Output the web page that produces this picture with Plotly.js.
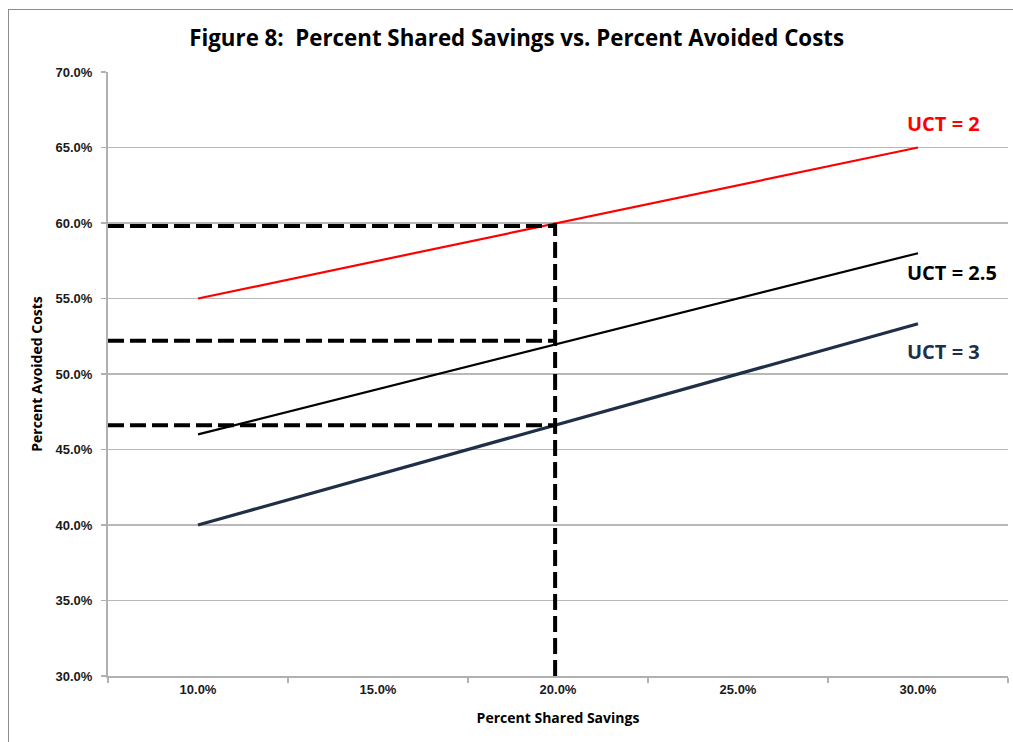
<!DOCTYPE html>
<html>
<head>
<meta charset="utf-8">
<script src="https://cdn.plot.ly/plotly-3.0.1.min.js"></script>
<style>
html,body{margin:0;padding:0;background:#fff;}
#wrap{position:relative;width:1013px;height:742px;}
#chart{width:1013px;height:742px;}
#frame{position:absolute;left:8px;top:9px;width:1020px;height:760px;border:1.5px solid #8c8c8c;pointer-events:none;}
</style>
</head>
<body>
<div id="wrap"><div id="chart"></div><div id="frame"></div></div>
<script>
// Data
var sharedSavings = [0.10, 0.15, 0.20, 0.25, 0.30];
var xTickLabels = ["10.0%", "15.0%", "20.0%", "25.0%", "30.0%"];
var uct2 = [0.55, 0.575, 0.60, 0.625, 0.65];
var uct25 = [0.46, 0.49, 0.52, 0.55, 0.58];
var uct3 = [0.40, 0.4333, 0.4666, 0.50, 0.5333];
var seriesNames = ["UCT = 2", "UCT = 2.5", "UCT = 3"];
var yTickVals = [0.30, 0.35, 0.40, 0.45, 0.50, 0.55, 0.60, 0.65, 0.70];
var yTickLabels = ["30.0%", "35.0%", "40.0%", "45.0%", "50.0%", "55.0%", "60.0%", "65.0%", "70.0%"];
// reference guide lines
var guideX = 0.1992;
var guideLevels = [0.598, 0.522, 0.466];
var guideTop = 0.600;
var axisMinX = 0.075, axisMaxX = 0.325;
var labelX = 0.2965;
var labelY = [0.6656, 0.567, 0.515];

var colors = ["#ff0000", "#000000", "#1f2f47"];
var widths = [2.2, 2.2, 3.2];
var allSeries = [uct2, uct25, uct3];

var traces = [];
allSeries.forEach(function (s, i) {
  traces.push({
    x: sharedSavings, y: s, type: "scatter", mode: "lines",
    name: seriesNames[i], line: {color: colors[i], width: widths[i]},
    hoverinfo: "skip", showlegend: false
  });
});
var dashStyle = {color: "#000000", width: 4, dash: "16px,6px"};
guideLevels.forEach(function (lv) {
  traces.push({x: [axisMinX, guideX], y: [lv, lv], type: "scatter", mode: "lines",
    line: dashStyle, showlegend: false, hoverinfo: "skip"});
});
traces.push({x: [guideX, guideX], y: [0.30, guideTop], type: "scatter", mode: "lines",
  line: dashStyle, showlegend: false, hoverinfo: "skip"});

var tickFont = {family: "Arial, Liberation Sans, sans-serif", size: 13, color: "#1a1a1a", weight: "bold"};

var annotations = seriesNames.map(function (n, i) {
  return {x: labelX, y: labelY[i], xref: "x", yref: "y", text: "<b>" + n + "</b>",
    showarrow: false, xanchor: "left", yanchor: "middle",
    font: {family: "Open Sans, sans-serif", size: 20, color: colors[i]}};
});

var layout = {
  width: 1013, height: 742,
  margin: {l: 108, r: 5, t: 72, b: 66},
  paper_bgcolor: "#ffffff", plot_bgcolor: "#ffffff",
  title: {text: "<b>Figure 8:  Percent Shared Savings vs. Percent Avoided Costs</b>",
    font: {family: "Open Sans, sans-serif", size: 22.3, color: "#000000"},
    x: 0.51, xanchor: "center", y: 0.949, yanchor: "middle"},
  xaxis: {
    range: [axisMinX, axisMaxX], tickvals: sharedSavings, ticktext: xTickLabels,
    ticks: "", showgrid: false, zeroline: false,
    showline: true, linecolor: "#b0b0b0", linewidth: 2,
    tickfont: tickFont,
    minor: {tick0: 0.075, dtick: 0.05, ticks: "outside", ticklen: 5, tickcolor: "#b0b0b0", tickwidth: 1.5, showgrid: false},
    title: {text: "<b>Percent Shared Savings</b>", font: {family: "Open Sans, sans-serif", size: 14, color: "#000"}, standoff: 18}
  },
  yaxis: {
    range: [0.30, 0.70], tickvals: yTickVals, ticktext: yTickLabels,
    ticks: "outside", ticklen: 5, tickcolor: "#b0b0b0", tickwidth: 1.5,
    ticklabelstandoff: 6,
    showgrid: true, gridcolor: "#b8b8b8", gridwidth: 1.5, zeroline: false,
    showline: true, linecolor: "#b0b0b0", linewidth: 2,
    tickfont: tickFont,
    title: {text: "<b>Percent Avoided Costs</b>", font: {family: "Open Sans, sans-serif", size: 14, color: "#000"}, standoff: 10}
  },
  annotations: annotations,
  showlegend: false
};

Plotly.newPlot("chart", traces, layout, {displayModeBar: false, staticPlot: true});
</script>
</body>
</html>
